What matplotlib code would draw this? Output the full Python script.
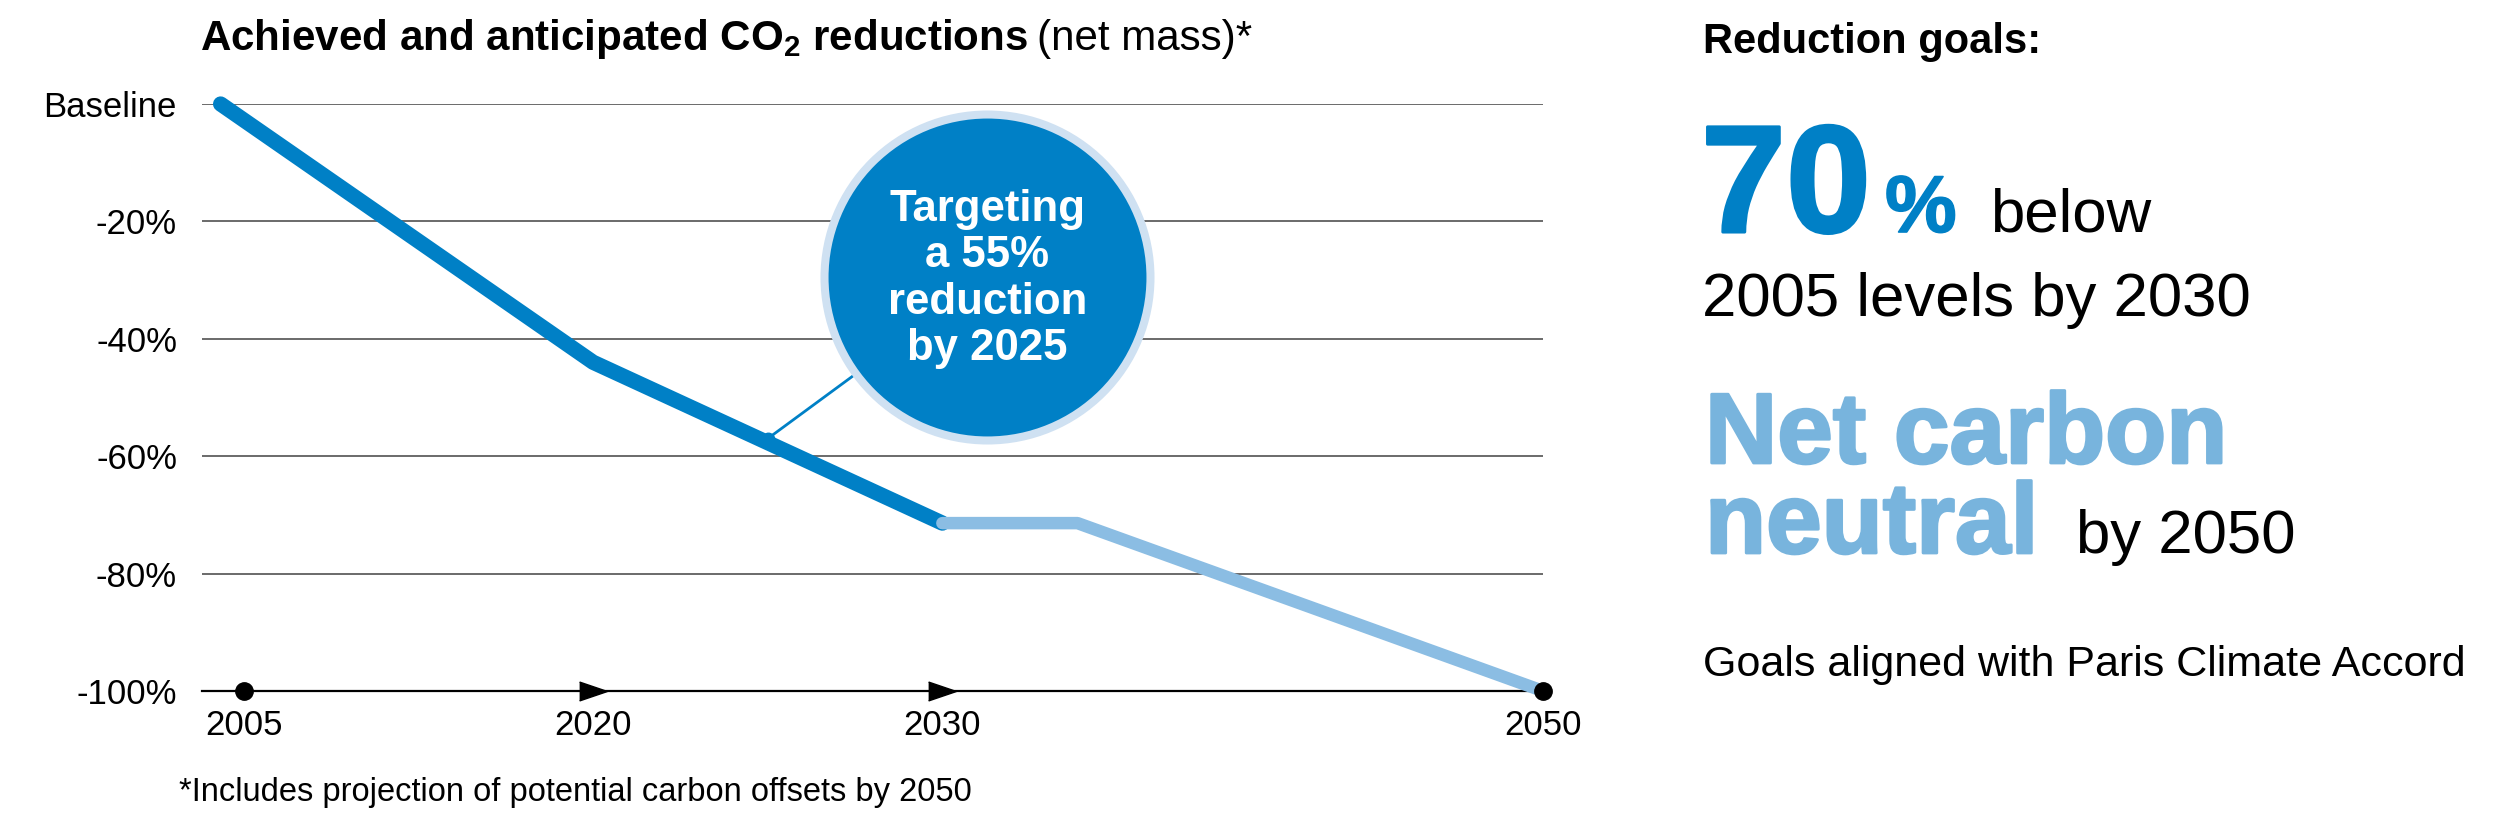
import numpy as np
import matplotlib
matplotlib.use("Agg")
import matplotlib.pyplot as plt
import matplotlib.patheffects as pe

# data
achieved_years = [2004, 2020, 2030]
achieved_vals = [0, -44, -71.4]
projected_years = [2030, 2034.5, 2050]
projected_vals = [-71.4, -71.4, -100]
target_year = 2025
target_val = -57
tick_years = [2005, 2020, 2030, 2050]
tick_labels = ["2005", "2020", "2030", "2050"]
tick_markers = ["o", ">", ">", "o"]
y_ticks = [0, -20, -40, -60, -80, -100]
y_labels = ["Baseline", "-20%", "-40%", "-60%", "-80%", "-100%"]

DARK = "#0080C6"
LIGHT = "#8BBDE3"
RING = "#CFE1F2"
NEUTRAL = "#78B4DD"

plt.rcParams["font.family"] = ["Liberation Sans", "DejaVu Sans"]
plt.rcParams["mathtext.default"] = "regular"

W, H = 2513, 825
fig = plt.figure(figsize=(W / 100, H / 100), dpi=100)
ax = fig.add_axes([202 / W, (H - 691) / H, 1341 / W, 587 / H])
rend = fig.canvas.get_renderer()

# uneven timeline spacing like the original graphic
kx = np.array([1990, 2005, 2020, 2030, 2050, 2070])
kp = np.array([-1, 0, 1, 2, 3.72, 5.44])
ax.set_xscale("function", functions=(lambda x: np.interp(x, kx, kp),
                                     lambda p: np.interp(p, kp, kx)))
ax.set_xlim(2003.2, 2049.9)
ax.set_ylim(-100, 0)

for s in ax.spines.values():
    s.set_visible(False)
ax.set_yticks(y_ticks)
ax.set_yticklabels(y_labels, fontsize=25)
ax.set_xticks(tick_years)
ax.set_xticklabels(tick_labels, fontsize=25)
ax.xaxis.set_minor_locator(matplotlib.ticker.NullLocator())
ax.tick_params(axis="y", length=0, pad=18)
ax.tick_params(axis="x", length=0, pad=13)
ax.grid(axis="y", color="#6a6a6a", lw=1.4, zorder=1)
ax.set_axisbelow(True)

# timeline along the bottom
ax.axhline(-100, color="black", lw=1.6, zorder=2, clip_on=False)
tri = [(-1, -0.68), (1, 0), (-1, 0.68)]
for yr, m in zip(tick_years, tick_markers):
    if m == "o":
        ax.plot(yr, -100, marker="o", ms=12.5, color="black", zorder=6, clip_on=False)
    else:
        ax.plot(yr, -100, marker=tri, ms=20, color="black", zorder=6, clip_on=False)

ax.plot(achieved_years, achieved_vals, color=DARK, lw=11,
        solid_capstyle="round", solid_joinstyle="round", zorder=4, clip_on=False)
ax.plot(projected_years, projected_vals, color=LIGHT, lw=9,
        solid_capstyle="round", solid_joinstyle="round", zorder=5, clip_on=False)

# callout
cx, cy = 2031.5, -29.5
ax.plot(target_year, target_val, marker="o", ms=9, color=DARK, zorder=6)
ax.plot([target_year, cx], [target_val, cy], color=DARK, lw=2, zorder=6)
ax.plot(cx, cy, marker="o", ms=234.7, mfc=DARK, mec=RING, mew=5.8, zorder=7,
        clip_on=False)
ax.text(cx, cy - 0.3, "Targeting\na 55%\nreduction\nby 2025",
        ha="center", va="center", color="white", fontsize=31.5, fontweight="bold",
        linespacing=1.17, zorder=8)

# title
t1 = fig.text(200 / W, 1 - 50 / H, "Achieved and anticipated CO$_2$ reductions",
              fontsize=30.3, fontweight="bold", va="baseline")
bb = t1.get_window_extent(rend)
fig.text(bb.x1 / W + 9 / W, 1 - 50 / H, "(net mass)*", fontsize=30.3, va="baseline")

fig.text(179 / W, 1 - 801 / H, "*Includes projection of potential carbon offsets by 2050",
         fontsize=23.5, va="baseline")

# right panel, heavy text is bold thickened with a thin stroke
def heavy(c, w):
    return [pe.withStroke(linewidth=w, foreground=c)]

fig.text(1703 / W, 1 - 53 / H, "Reduction goals:", fontsize=30, fontweight="bold", va="baseline")
fig.text(1701 / W, 1 - 232 / H, "70", fontsize=110, fontweight="bold", color=DARK,
         va="baseline", path_effects=heavy(DARK, 2.2))
fig.text(1885 / W, 1 - 232 / H, "%", fontsize=58, fontweight="bold", color=DARK,
         va="baseline", path_effects=heavy(DARK, 1.2))
fig.text(1990 / W, 1 - 232 / H, "below", fontsize=44.5, va="baseline")
fig.text(1702 / W, 1 - 316 / H, "2005 levels by 2030", fontsize=44.5, va="baseline")
fig.text(1705 / W, 1 - 463 / H, "Net carbon", fontsize=72, fontweight="bold",
         color=NEUTRAL, va="baseline", path_effects=heavy(NEUTRAL, 2))
fig.text(1705 / W, 1 - 553 / H, "neutral", fontsize=72, fontweight="bold",
         color=NEUTRAL, va="baseline", path_effects=heavy(NEUTRAL, 2))
fig.text(2076 / W, 1 - 553 / H, "by 2050", fontsize=44.5, va="baseline")
fig.text(1703 / W, 1 - 676 / H, "Goals aligned with Paris Climate Accord", fontsize=31, va="baseline")

fig.savefig("out.png", dpi=100, facecolor="white")
